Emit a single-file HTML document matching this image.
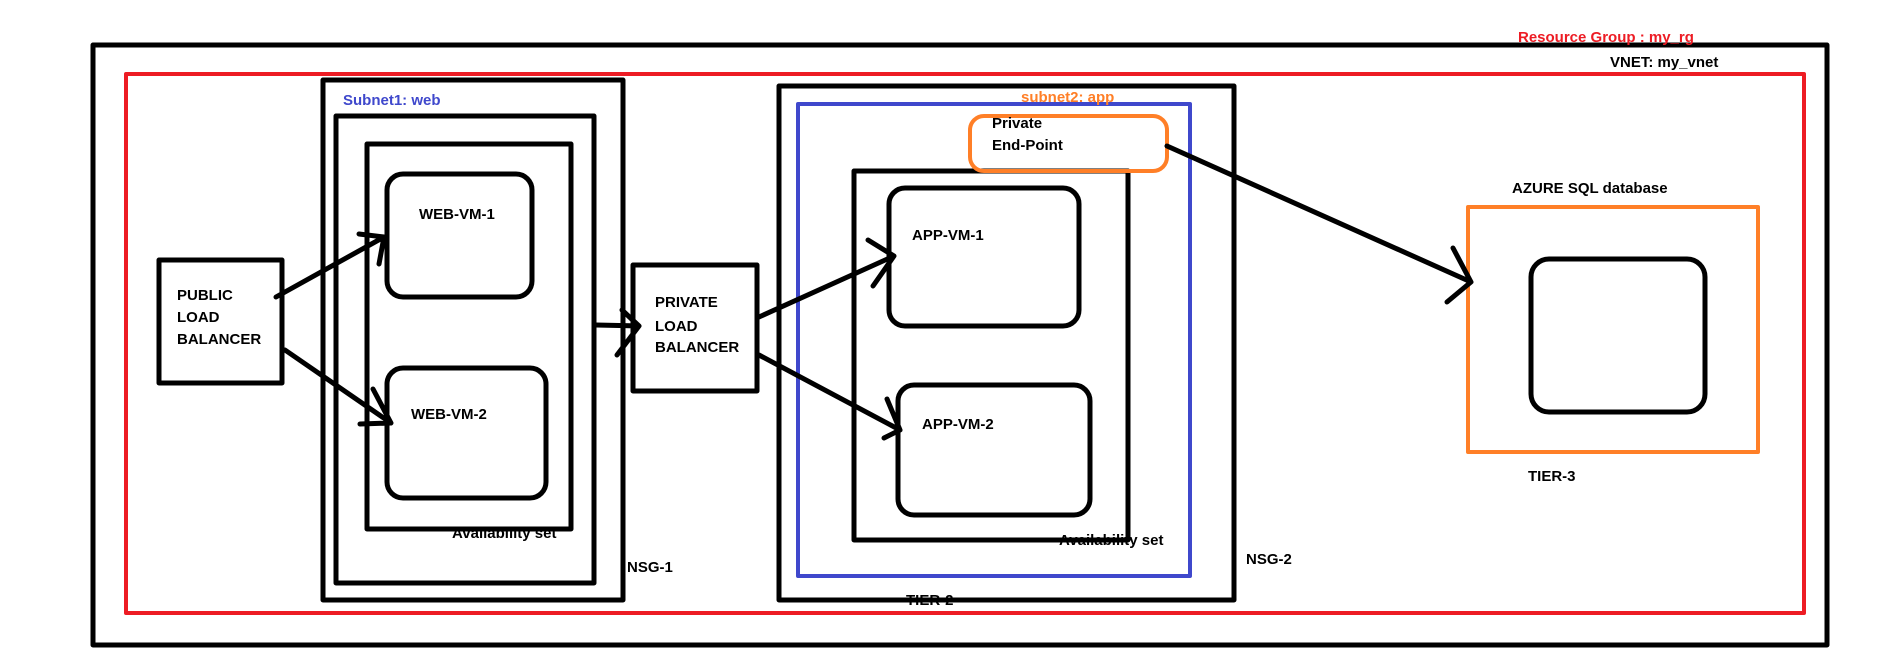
<!DOCTYPE html>
<html><head><meta charset="utf-8"><style>
html,body{margin:0;padding:0;background:#fff;}
svg{display:block;}
text{font-family:"Liberation Sans",sans-serif;font-weight:bold;font-size:15px;}
</style></head><body>
<svg width="1878" height="648" viewBox="0 0 1878 648" xmlns="http://www.w3.org/2000/svg">
<rect width="1878" height="648" fill="#fff"/>
<g fill="none" stroke-linecap="round" stroke-linejoin="round">
<rect x="93" y="45" width="1734" height="600" stroke="#000" stroke-width="5"/>
<rect x="126" y="74" width="1678" height="539" stroke="#ed1c24" stroke-width="4"/>
<rect x="323" y="80" width="300" height="520" stroke="#000" stroke-width="5"/>
<rect x="336" y="116" width="258" height="467" stroke="#000" stroke-width="5"/>
<rect x="367" y="144" width="204" height="385" stroke="#000" stroke-width="5"/>
<rect x="387" y="174" width="145" height="123" rx="16" stroke="#000" stroke-width="5"/>
<rect x="387" y="368" width="159" height="130" rx="16" stroke="#000" stroke-width="5"/>
<rect x="159" y="260" width="123" height="123" stroke="#000" stroke-width="5"/>
<rect x="633" y="265" width="124" height="126" stroke="#000" stroke-width="5"/>
<rect x="779" y="86" width="455" height="514" stroke="#000" stroke-width="5"/>
<rect x="798" y="104" width="392" height="472" stroke="#3f48cc" stroke-width="4"/>
<rect x="854" y="171" width="274" height="369" stroke="#000" stroke-width="5"/>
<rect x="889" y="188" width="190" height="138" rx="16" stroke="#000" stroke-width="5"/>
<rect x="898" y="385" width="192" height="130" rx="16" stroke="#000" stroke-width="5"/>
<rect x="970" y="116" width="197" height="55" rx="14" stroke="#ff7f27" stroke-width="4"/>
<rect x="1468" y="207" width="290" height="245" stroke="#ff7f27" stroke-width="4"/>
<rect x="1531" y="259" width="174" height="153" rx="18" stroke="#000" stroke-width="5"/>
<g stroke="#000" stroke-width="5">
<path d="M276 297 L384 237 M359 234 L384 237 L379 264"/>
<path d="M285 350 L391 423 M373 389 L391 423 L360 424"/>
<path d="M596 325 L639 326 M622 310 L639 326 L617 355"/>
<path d="M759 317 L894 256 M868 240 L894 256 L873 286"/>
<path d="M759 355 L900 430 M887 399 L900 430 L884 438"/>
<path d="M1167 146 L1471 282 M1453 248 L1471 282 L1447 302"/>
</g>
</g>
<text x="1518" y="42" fill="#ed1c24">Resource Group : my_rg</text>
<text x="1610" y="67" fill="#000">VNET: my_vnet</text>
<text x="343" y="105" fill="#3f48cc">Subnet1: web</text>
<text x="419" y="219">WEB-VM-1</text>
<text x="411" y="419">WEB-VM-2</text>
<text x="177" y="300">PUBLIC</text>
<text x="177" y="322">LOAD</text>
<text x="177" y="344">BALANCER</text>
<text x="655" y="307">PRIVATE</text>
<text x="655" y="331">LOAD</text>
<text x="655" y="352">BALANCER</text>
<text x="452" y="538">Availability set</text>
<text x="627" y="572">NSG-1</text>
<text x="1021" y="102" fill="#ff7f27">subnet2: app</text>
<text x="992" y="128">Private</text>
<text x="992" y="150">End-Point</text>
<text x="912" y="240">APP-VM-1</text>
<text x="922" y="429">APP-VM-2</text>
<text x="1059" y="545">Availability set</text>
<text x="1246" y="564">NSG-2</text>
<text x="906" y="605">TIER-2</text>
<text x="1512" y="193">AZURE SQL database</text>
<text x="1528" y="481">TIER-3</text>
</svg>
</body></html>
